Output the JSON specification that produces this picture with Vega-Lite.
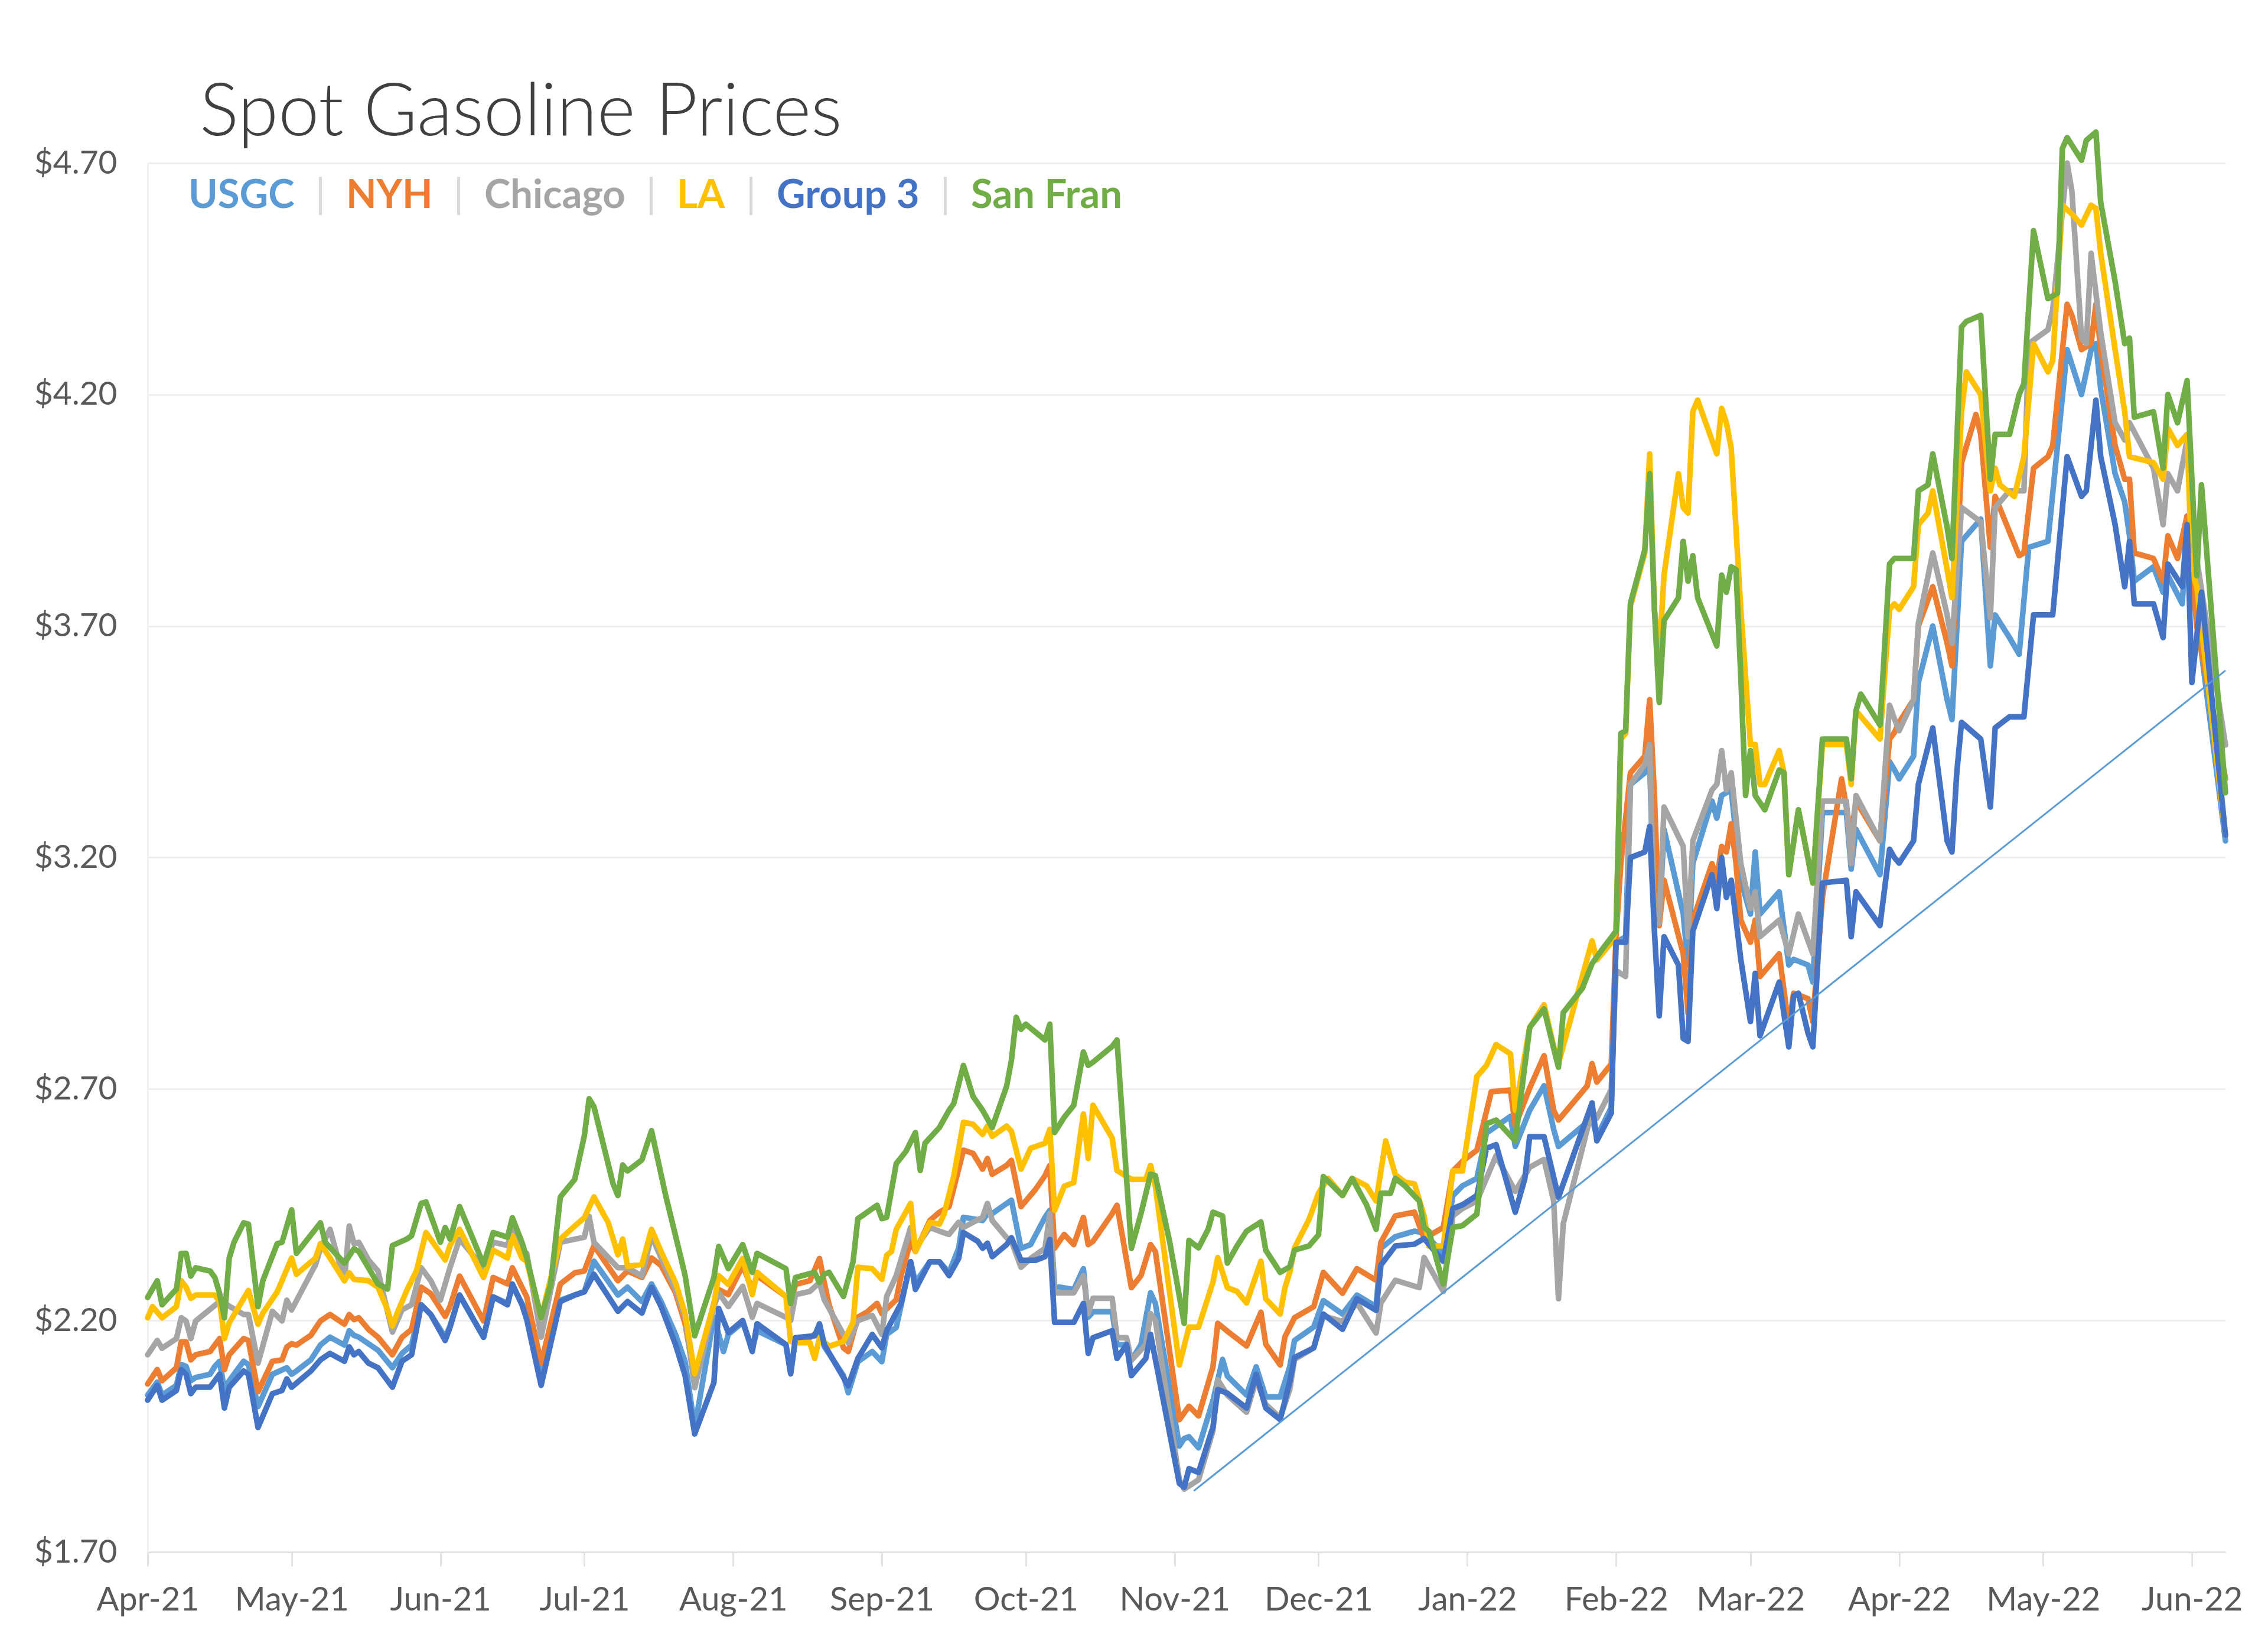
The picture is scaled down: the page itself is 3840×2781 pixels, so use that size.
{
"$schema": "https://vega.github.io/schema/vega-lite/v6.json",
"width": 3518, "height": 2351,
"autosize": {"type": "none"},
"padding": {"left": 250, "top": 276, "right": 72, "bottom": 154},
"background": "white",
"config": {"view": {"stroke": null}, "font": "Lato"},
"title": {"text": "Spot Gasoline Prices", "anchor": "start", "frame": "group", "font": "Lato", "fontSize": 124, "fontWeight": 300, "color": "#404040", "offset": 40, "dx": 88, "dy": 76},
"datasets": {
"USGC": [
{"d":"2021-04-01","p":2.039},{"d":"2021-04-03","p":2.067},{"d":"2021-04-04","p":2.039},{"d":"2021-04-07","p":2.06},{"d":"2021-04-08","p":2.105},{"d":"2021-04-09","p":2.101},{"d":"2021-04-10","p":2.07},{"d":"2021-04-11","p":2.077},{"d":"2021-04-14","p":2.084},{"d":"2021-04-15","p":2.101},{"d":"2021-04-16","p":2.112},{"d":"2021-04-17","p":2.049},{"d":"2021-04-18","p":2.07},{"d":"2021-04-21","p":2.112},{"d":"2021-04-22","p":2.105},{"d":"2021-04-24","p":2.014},{"d":"2021-04-27","p":2.084},{"d":"2021-04-30","p":2.098},
{"d":"2021-05-01","p":2.084},{"d":"2021-05-02","p":2.091},{"d":"2021-05-05","p":2.115},{"d":"2021-05-07","p":2.147},{"d":"2021-05-09","p":2.164},{"d":"2021-05-12","p":2.147},{"d":"2021-05-13","p":2.178},{"d":"2021-05-14","p":2.168},{"d":"2021-05-15","p":2.164},{"d":"2021-05-17","p":2.15},{"d":"2021-05-19","p":2.136},{"d":"2021-05-22","p":2.098},{"d":"2021-05-24","p":2.129},{"d":"2021-05-26","p":2.147},{"d":"2021-05-28","p":2.234},{"d":"2021-05-30","p":2.213},
{"d":"2021-06-02","p":2.164},{"d":"2021-06-03","p":2.188},{"d":"2021-06-05","p":2.255},{"d":"2021-06-10","p":2.164},{"d":"2021-06-12","p":2.251},{"d":"2021-06-15","p":2.237},{"d":"2021-06-16","p":2.275},{"d":"2021-06-18","p":2.237},{"d":"2021-06-19","p":2.216},{"d":"2021-06-22","p":2.084},{"d":"2021-06-26","p":2.244},{"d":"2021-06-29","p":2.255},
{"d":"2021-07-01","p":2.262},{"d":"2021-07-03","p":2.328},{"d":"2021-07-08","p":2.255},{"d":"2021-07-10","p":2.272},{"d":"2021-07-13","p":2.241},{"d":"2021-07-15","p":2.279},{"d":"2021-07-17","p":2.241},{"d":"2021-07-20","p":2.17},{"d":"2021-07-22","p":2.111},{"d":"2021-07-24","p":1.969},{"d":"2021-07-28","p":2.207},{"d":"2021-07-30","p":2.133},{"d":"2021-07-31","p":2.17},
{"d":"2021-08-03","p":2.196},{"d":"2021-08-05","p":2.14},{"d":"2021-08-06","p":2.178},{"d":"2021-08-12","p":2.148},{"d":"2021-08-13","p":2.088},{"d":"2021-08-14","p":2.159},{"d":"2021-08-17","p":2.163},{"d":"2021-08-19","p":2.178},{"d":"2021-08-20","p":2.144},{"d":"2021-08-24","p":2.081},{"d":"2021-08-25","p":2.044},{"d":"2021-08-27","p":2.111},{"d":"2021-08-30","p":2.133},
{"d":"2021-09-01","p":2.111},{"d":"2021-09-02","p":2.17},{"d":"2021-09-04","p":2.185},{"d":"2021-09-07","p":2.327},{"d":"2021-09-08","p":2.282},{"d":"2021-09-11","p":2.327},{"d":"2021-09-13","p":2.327},{"d":"2021-09-15","p":2.304},{"d":"2021-09-17","p":2.356},{"d":"2021-09-18","p":2.423},{"d":"2021-09-22","p":2.416},{"d":"2021-09-23","p":2.431},{"d":"2021-09-24","p":2.431},{"d":"2021-09-28","p":2.46},{"d":"2021-09-30","p":2.356},
{"d":"2021-10-02","p":2.364},{"d":"2021-10-05","p":2.423},{"d":"2021-10-06","p":2.438},{"d":"2021-10-07","p":2.274},{"d":"2021-10-11","p":2.267},{"d":"2021-10-13","p":2.312},{"d":"2021-10-14","p":2.207},{"d":"2021-10-15","p":2.219},{"d":"2021-10-19","p":2.219},{"d":"2021-10-20","p":2.148},{"d":"2021-10-22","p":2.148},{"d":"2021-10-23","p":2.114},{"d":"2021-10-25","p":2.148},{"d":"2021-10-27","p":2.26},{"d":"2021-10-28","p":2.237},
{"d":"2021-11-02","p":1.929},{"d":"2021-11-03","p":1.945},{"d":"2021-11-04","p":1.949},{"d":"2021-11-06","p":1.925},{"d":"2021-11-09","p":2.027},{"d":"2021-11-11","p":2.116},{"d":"2021-11-12","p":2.08},{"d":"2021-11-16","p":2.039},{"d":"2021-11-18","p":2.1},{"d":"2021-11-20","p":2.035},{"d":"2021-11-23","p":2.035},{"d":"2021-11-25","p":2.1},{"d":"2021-11-26","p":2.157},{"d":"2021-11-30","p":2.186},
{"d":"2021-12-02","p":2.243},{"d":"2021-12-06","p":2.214},{"d":"2021-12-09","p":2.255},{"d":"2021-12-13","p":2.23},{"d":"2021-12-14","p":2.356},{"d":"2021-12-17","p":2.381},{"d":"2021-12-21","p":2.393},{"d":"2021-12-23","p":2.389},{"d":"2021-12-27","p":2.344},{"d":"2021-12-29","p":2.47},{"d":"2021-12-31","p":2.491},
{"d":"2022-01-03","p":2.507},{"d":"2022-01-05","p":2.605},{"d":"2022-01-10","p":2.641},{"d":"2022-01-11","p":2.576},{"d":"2022-01-14","p":2.654},{"d":"2022-01-17","p":2.707},{"d":"2022-01-19","p":2.613},{"d":"2022-01-20","p":2.576},{"d":"2022-01-27","p":2.637},{"d":"2022-01-28","p":2.597},{"d":"2022-01-31","p":2.66},
{"d":"2022-02-01","p":3.017},{"d":"2022-02-03","p":3.029},{"d":"2022-02-04","p":3.358},{"d":"2022-02-07","p":3.383},{"d":"2022-02-08","p":3.407},{"d":"2022-02-09","p":3.065},{"d":"2022-02-10","p":3.059},{"d":"2022-02-11","p":3.261},{"d":"2022-02-15","p":3.078},{"d":"2022-02-16","p":2.968},{"d":"2022-02-17","p":3.187},{"d":"2022-02-21","p":3.322},{"d":"2022-02-22","p":3.285},{"d":"2022-02-23","p":3.334},{"d":"2022-02-25","p":3.346},{"d":"2022-02-27","p":3.151},
{"d":"2022-03-01","p":3.078},{"d":"2022-03-02","p":3.212},{"d":"2022-03-03","p":3.078},{"d":"2022-03-07","p":3.126},{"d":"2022-03-09","p":2.968},{"d":"2022-03-10","p":2.98},{"d":"2022-03-13","p":2.968},{"d":"2022-03-14","p":2.931},{"d":"2022-03-16","p":3.297},{"d":"2022-03-21","p":3.297},{"d":"2022-03-22","p":3.175},{"d":"2022-03-23","p":3.261},{"d":"2022-03-28","p":3.163},{"d":"2022-03-30","p":3.407},{"d":"2022-03-31","p":3.39},
{"d":"2022-04-01","p":3.37},{"d":"2022-04-04","p":3.419},{"d":"2022-04-05","p":3.578},{"d":"2022-04-08","p":3.7},{"d":"2022-04-11","p":3.541},{"d":"2022-04-12","p":3.498},{"d":"2022-04-14","p":3.883},{"d":"2022-04-18","p":3.931},{"d":"2022-04-20","p":3.614},{"d":"2022-04-21","p":3.724},{"d":"2022-04-24","p":3.675},{"d":"2022-04-26","p":3.639},{"d":"2022-04-28","p":3.87},
{"d":"2022-05-02","p":3.883},{"d":"2022-05-06","p":4.297},{"d":"2022-05-09","p":4.2},{"d":"2022-05-11","p":4.297},{"d":"2022-05-12","p":4.31},{"d":"2022-05-13","p":4.212},{"d":"2022-05-16","p":4.029},{"d":"2022-05-18","p":3.968},{"d":"2022-05-19","p":3.895},{"d":"2022-05-20","p":3.797},{"d":"2022-05-24","p":3.828},{"d":"2022-05-26","p":3.773},{"d":"2022-05-27","p":3.809},{"d":"2022-05-30","p":3.748},{"d":"2022-05-31","p":3.919},
{"d":"2022-06-02","p":3.724},{"d":"2022-06-08","p":3.236}
],
"NYH": [
{"d":"2021-04-01","p":2.063},{"d":"2021-04-03","p":2.094},{"d":"2021-04-04","p":2.07},{"d":"2021-04-07","p":2.098},{"d":"2021-04-08","p":2.154},{"d":"2021-04-09","p":2.154},{"d":"2021-04-10","p":2.115},{"d":"2021-04-11","p":2.126},{"d":"2021-04-14","p":2.133},{"d":"2021-04-15","p":2.147},{"d":"2021-04-16","p":2.161},{"d":"2021-04-17","p":2.094},{"d":"2021-04-18","p":2.126},{"d":"2021-04-21","p":2.161},{"d":"2021-04-22","p":2.157},{"d":"2021-04-24","p":2.046},{"d":"2021-04-27","p":2.112},{"d":"2021-04-29","p":2.115},{"d":"2021-04-30","p":2.143},
{"d":"2021-05-01","p":2.15},{"d":"2021-05-02","p":2.147},{"d":"2021-05-05","p":2.168},{"d":"2021-05-07","p":2.199},{"d":"2021-05-09","p":2.213},{"d":"2021-05-12","p":2.192},{"d":"2021-05-13","p":2.213},{"d":"2021-05-14","p":2.202},{"d":"2021-05-15","p":2.206},{"d":"2021-05-17","p":2.181},{"d":"2021-05-19","p":2.164},{"d":"2021-05-22","p":2.126},{"d":"2021-05-24","p":2.164},{"d":"2021-05-26","p":2.181},{"d":"2021-05-28","p":2.272},{"d":"2021-05-30","p":2.258},
{"d":"2021-06-02","p":2.209},{"d":"2021-06-03","p":2.23},{"d":"2021-06-05","p":2.296},{"d":"2021-06-10","p":2.199},{"d":"2021-06-12","p":2.293},{"d":"2021-06-15","p":2.279},{"d":"2021-06-16","p":2.314},{"d":"2021-06-18","p":2.272},{"d":"2021-06-19","p":2.251},{"d":"2021-06-22","p":2.108},{"d":"2021-06-26","p":2.279},{"d":"2021-06-29","p":2.303},
{"d":"2021-07-01","p":2.307},{"d":"2021-07-03","p":2.362},{"d":"2021-07-08","p":2.286},{"d":"2021-07-10","p":2.307},{"d":"2021-07-13","p":2.293},{"d":"2021-07-15","p":2.335},{"d":"2021-07-17","p":2.319},{"d":"2021-07-20","p":2.26},{"d":"2021-07-22","p":2.193},{"d":"2021-07-24","p":2.074},{"d":"2021-07-28","p":2.237},{"d":"2021-07-29","p":2.267},{"d":"2021-07-31","p":2.256},
{"d":"2021-08-03","p":2.319},{"d":"2021-08-05","p":2.267},{"d":"2021-08-06","p":2.297},{"d":"2021-08-12","p":2.252},{"d":"2021-08-13","p":2.237},{"d":"2021-08-14","p":2.278},{"d":"2021-08-17","p":2.286},{"d":"2021-08-19","p":2.334},{"d":"2021-08-20","p":2.282},{"d":"2021-08-21","p":2.234},{"d":"2021-08-24","p":2.141},{"d":"2021-08-25","p":2.133},{"d":"2021-08-27","p":2.207},{"d":"2021-08-29","p":2.219},{"d":"2021-08-31","p":2.237},
{"d":"2021-09-01","p":2.215},{"d":"2021-09-04","p":2.245},{"d":"2021-09-05","p":2.297},{"d":"2021-09-07","p":2.371},{"d":"2021-09-08","p":2.349},{"d":"2021-09-11","p":2.416},{"d":"2021-09-13","p":2.434},{"d":"2021-09-15","p":2.446},{"d":"2021-09-17","p":2.527},{"d":"2021-09-18","p":2.568},{"d":"2021-09-20","p":2.561},{"d":"2021-09-22","p":2.527},{"d":"2021-09-23","p":2.55},{"d":"2021-09-24","p":2.516},{"d":"2021-09-27","p":2.535},{"d":"2021-09-28","p":2.546},{"d":"2021-09-30","p":2.446},
{"d":"2021-10-03","p":2.483},{"d":"2021-10-05","p":2.513},{"d":"2021-10-06","p":2.535},{"d":"2021-10-07","p":2.356},{"d":"2021-10-09","p":2.386},{"d":"2021-10-11","p":2.364},{"d":"2021-10-13","p":2.423},{"d":"2021-10-14","p":2.364},{"d":"2021-10-15","p":2.371},{"d":"2021-10-19","p":2.431},{"d":"2021-10-20","p":2.449},{"d":"2021-10-23","p":2.271},{"d":"2021-10-25","p":2.297},{"d":"2021-10-27","p":2.364},{"d":"2021-10-28","p":2.349},
{"d":"2021-11-02","p":1.986},{"d":"2021-11-04","p":2.015},{"d":"2021-11-06","p":1.994},{"d":"2021-11-09","p":2.1},{"d":"2021-11-10","p":2.194},{"d":"2021-11-12","p":2.177},{"d":"2021-11-16","p":2.145},{"d":"2021-11-19","p":2.218},{"d":"2021-11-20","p":2.149},{"d":"2021-11-23","p":2.104},{"d":"2021-11-24","p":2.165},{"d":"2021-11-26","p":2.206},{"d":"2021-11-30","p":2.23},
{"d":"2021-12-02","p":2.304},{"d":"2021-12-06","p":2.259},{"d":"2021-12-09","p":2.312},{"d":"2021-12-13","p":2.287},{"d":"2021-12-14","p":2.369},{"d":"2021-12-17","p":2.426},{"d":"2021-12-21","p":2.434},{"d":"2021-12-23","p":2.377},{"d":"2021-12-27","p":2.401},{"d":"2021-12-29","p":2.523},{"d":"2021-12-31","p":2.544},
{"d":"2022-01-03","p":2.568},{"d":"2022-01-06","p":2.694},{"d":"2022-01-10","p":2.698},{"d":"2022-01-11","p":2.621},{"d":"2022-01-14","p":2.702},{"d":"2022-01-17","p":2.772},{"d":"2022-01-19","p":2.654},{"d":"2022-01-20","p":2.633},{"d":"2022-01-26","p":2.707},{"d":"2022-01-27","p":2.755},{"d":"2022-01-28","p":2.715},{"d":"2022-01-31","p":2.754},
{"d":"2022-02-01","p":3.029},{"d":"2022-02-02","p":3.187},{"d":"2022-02-04","p":3.383},{"d":"2022-02-07","p":3.419},{"d":"2022-02-08","p":3.541},{"d":"2022-02-09","p":3.334},{"d":"2022-02-10","p":3.053},{"d":"2022-02-11","p":3.151},{"d":"2022-02-15","p":2.992},{"d":"2022-02-16","p":2.864},{"d":"2022-02-17","p":3.065},{"d":"2022-02-21","p":3.187},{"d":"2022-02-22","p":3.151},{"d":"2022-02-23","p":3.224},{"d":"2022-02-24","p":3.212},{"d":"2022-02-25","p":3.273},{"d":"2022-02-26","p":3.187},{"d":"2022-02-27","p":3.065},
{"d":"2022-03-01","p":3.017},{"d":"2022-03-02","p":3.065},{"d":"2022-03-03","p":2.943},{"d":"2022-03-07","p":2.992},{"d":"2022-03-09","p":2.834},{"d":"2022-03-10","p":2.907},{"d":"2022-03-13","p":2.895},{"d":"2022-03-14","p":2.846},{"d":"2022-03-16","p":3.114},{"d":"2022-03-20","p":3.37},{"d":"2022-03-22","p":3.248},{"d":"2022-03-23","p":3.322},{"d":"2022-03-28","p":3.236},{"d":"2022-03-30","p":3.456},{"d":"2022-03-31","p":3.47},
{"d":"2022-04-01","p":3.492},{"d":"2022-04-04","p":3.541},{"d":"2022-04-05","p":3.7},{"d":"2022-04-08","p":3.785},{"d":"2022-04-11","p":3.663},{"d":"2022-04-12","p":3.614},{"d":"2022-04-14","p":4.053},{"d":"2022-04-17","p":4.157},{"d":"2022-04-18","p":4.114},{"d":"2022-04-20","p":3.87},{"d":"2022-04-21","p":3.98},{"d":"2022-04-26","p":3.852},{"d":"2022-04-27","p":3.858},{"d":"2022-04-29","p":4.041},
{"d":"2022-05-02","p":4.066},{"d":"2022-05-03","p":4.09},{"d":"2022-05-06","p":4.395},{"d":"2022-05-07","p":4.371},{"d":"2022-05-09","p":4.297},{"d":"2022-05-11","p":4.31},{"d":"2022-05-12","p":4.395},{"d":"2022-05-13","p":4.297},{"d":"2022-05-16","p":4.09},{"d":"2022-05-18","p":4.017},{"d":"2022-05-19","p":4.017},{"d":"2022-05-20","p":3.858},{"d":"2022-05-24","p":3.846},{"d":"2022-05-26","p":3.797},{"d":"2022-05-27","p":3.895},{"d":"2022-05-29","p":3.846},{"d":"2022-05-31","p":3.938},
{"d":"2022-06-02","p":3.7},{"d":"2022-06-08","p":3.37}
],
"Chicago": [
{"d":"2021-04-01","p":2.126},{"d":"2021-04-03","p":2.157},{"d":"2021-04-04","p":2.14},{"d":"2021-04-07","p":2.161},{"d":"2021-04-08","p":2.206},{"d":"2021-04-09","p":2.199},{"d":"2021-04-10","p":2.161},{"d":"2021-04-11","p":2.199},{"d":"2021-04-16","p":2.241},{"d":"2021-04-17","p":2.237},{"d":"2021-04-21","p":2.213},{"d":"2021-04-22","p":2.213},{"d":"2021-04-24","p":2.108},{"d":"2021-04-27","p":2.22},{"d":"2021-04-29","p":2.199},{"d":"2021-04-30","p":2.244},
{"d":"2021-05-01","p":2.223},{"d":"2021-05-06","p":2.321},{"d":"2021-05-07","p":2.355},{"d":"2021-05-09","p":2.397},{"d":"2021-05-10","p":2.359},{"d":"2021-05-12","p":2.286},{"d":"2021-05-13","p":2.404},{"d":"2021-05-14","p":2.366},{"d":"2021-05-15","p":2.369},{"d":"2021-05-17","p":2.331},{"d":"2021-05-19","p":2.307},{"d":"2021-05-22","p":2.175},{"d":"2021-05-24","p":2.223},{"d":"2021-05-26","p":2.234},{"d":"2021-05-28","p":2.314},{"d":"2021-05-30","p":2.286},
{"d":"2021-06-01","p":2.244},{"d":"2021-06-03","p":2.314},{"d":"2021-06-05","p":2.376},{"d":"2021-06-10","p":2.314},{"d":"2021-06-12","p":2.369},{"d":"2021-06-15","p":2.362},{"d":"2021-06-16","p":2.397},{"d":"2021-06-18","p":2.345},{"d":"2021-06-19","p":2.345},{"d":"2021-06-22","p":2.164},{"d":"2021-06-26","p":2.369},
{"d":"2021-07-01","p":2.38},{"d":"2021-07-02","p":2.425},{"d":"2021-07-03","p":2.369},{"d":"2021-07-08","p":2.314},{"d":"2021-07-10","p":2.314},{"d":"2021-07-13","p":2.296},{"d":"2021-07-15","p":2.383},{"d":"2021-07-17","p":2.335},{"d":"2021-07-20","p":2.267},{"d":"2021-07-22","p":2.207},{"d":"2021-07-24","p":2.055},{"d":"2021-07-28","p":2.23},{"d":"2021-07-29","p":2.26},{"d":"2021-07-31","p":2.23},
{"d":"2021-08-03","p":2.274},{"d":"2021-08-05","p":2.207},{"d":"2021-08-06","p":2.237},{"d":"2021-08-12","p":2.207},{"d":"2021-08-13","p":2.2},{"d":"2021-08-14","p":2.256},{"d":"2021-08-17","p":2.263},{"d":"2021-08-19","p":2.282},{"d":"2021-08-20","p":2.245},{"d":"2021-08-24","p":2.17},{"d":"2021-08-25","p":2.152},{"d":"2021-08-27","p":2.2},{"d":"2021-08-30","p":2.211},
{"d":"2021-09-01","p":2.17},{"d":"2021-09-02","p":2.252},{"d":"2021-09-04","p":2.297},{"d":"2021-09-07","p":2.401},{"d":"2021-09-08","p":2.356},{"d":"2021-09-11","p":2.401},{"d":"2021-09-13","p":2.393},{"d":"2021-09-15","p":2.386},{"d":"2021-09-17","p":2.412},{"d":"2021-09-18","p":2.401},{"d":"2021-09-22","p":2.423},{"d":"2021-09-23","p":2.453},{"d":"2021-09-24","p":2.416},{"d":"2021-09-27","p":2.379},{"d":"2021-09-28","p":2.371},{"d":"2021-09-30","p":2.315},
{"d":"2021-10-02","p":2.334},{"d":"2021-10-05","p":2.356},{"d":"2021-10-06","p":2.431},{"d":"2021-10-07","p":2.26},{"d":"2021-10-11","p":2.26},{"d":"2021-10-13","p":2.297},{"d":"2021-10-14","p":2.215},{"d":"2021-10-15","p":2.248},{"d":"2021-10-19","p":2.248},{"d":"2021-10-20","p":2.163},{"d":"2021-10-22","p":2.163},{"d":"2021-10-23","p":2.114},{"d":"2021-10-26","p":2.148},{"d":"2021-10-27","p":2.215},{"d":"2021-10-28","p":2.2},
{"d":"2021-11-02","p":1.856},{"d":"2021-11-03","p":1.836},{"d":"2021-11-06","p":1.856},{"d":"2021-11-09","p":1.962},{"d":"2021-11-10","p":2.072},{"d":"2021-11-12","p":2.039},{"d":"2021-11-16","p":2.002},{"d":"2021-11-18","p":2.072},{"d":"2021-11-20","p":2.019},{"d":"2021-11-23","p":1.99},{"d":"2021-11-25","p":2.051},{"d":"2021-11-26","p":2.116},{"d":"2021-11-30","p":2.141},
{"d":"2021-12-02","p":2.21},{"d":"2021-12-06","p":2.198},{"d":"2021-12-09","p":2.238},{"d":"2021-12-13","p":2.173},{"d":"2021-12-14","p":2.238},{"d":"2021-12-17","p":2.287},{"d":"2021-12-22","p":2.271},{"d":"2021-12-23","p":2.336},{"d":"2021-12-27","p":2.263},{"d":"2021-12-29","p":2.426},{"d":"2021-12-31","p":2.442},
{"d":"2022-01-03","p":2.458},{"d":"2022-01-07","p":2.556},{"d":"2022-01-11","p":2.479},{"d":"2022-01-14","p":2.531},{"d":"2022-01-17","p":2.548},{"d":"2022-01-19","p":2.458},{"d":"2022-01-20","p":2.247},{"d":"2022-01-21","p":2.409},{"d":"2022-01-27","p":2.654},{"d":"2022-01-28","p":2.637},{"d":"2022-01-31","p":2.699},
{"d":"2022-02-01","p":2.956},{"d":"2022-02-03","p":2.943},{"d":"2022-02-04","p":3.358},{"d":"2022-02-07","p":3.401},{"d":"2022-02-08","p":3.444},{"d":"2022-02-09","p":3.053},{"d":"2022-02-10","p":3.059},{"d":"2022-02-11","p":3.309},{"d":"2022-02-15","p":3.224},{"d":"2022-02-16","p":3.029},{"d":"2022-02-17","p":3.236},{"d":"2022-02-21","p":3.346},{"d":"2022-02-22","p":3.358},{"d":"2022-02-23","p":3.431},{"d":"2022-02-24","p":3.346},{"d":"2022-02-25","p":3.383},{"d":"2022-02-27","p":3.187},
{"d":"2022-03-01","p":3.09},{"d":"2022-03-02","p":3.126},{"d":"2022-03-03","p":3.029},{"d":"2022-03-07","p":3.065},{"d":"2022-03-09","p":2.992},{"d":"2022-03-11","p":3.078},{"d":"2022-03-14","p":2.992},{"d":"2022-03-16","p":3.322},{"d":"2022-03-21","p":3.322},{"d":"2022-03-22","p":3.187},{"d":"2022-03-23","p":3.334},{"d":"2022-03-28","p":3.236},{"d":"2022-03-30","p":3.529},{"d":"2022-03-31","p":3.5},
{"d":"2022-04-01","p":3.474},{"d":"2022-04-04","p":3.541},{"d":"2022-04-05","p":3.706},{"d":"2022-04-08","p":3.858},{"d":"2022-04-11","p":3.724},{"d":"2022-04-12","p":3.663},{"d":"2022-04-14","p":3.956},{"d":"2022-04-18","p":3.925},{"d":"2022-04-20","p":3.718},{"d":"2022-04-21","p":3.956},{"d":"2022-04-24","p":3.992},{"d":"2022-04-27","p":3.992},{"d":"2022-04-28","p":4.31},
{"d":"2022-05-02","p":4.34},{"d":"2022-05-03","p":4.383},{"d":"2022-05-06","p":4.7},{"d":"2022-05-07","p":4.639},{"d":"2022-05-09","p":4.322},{"d":"2022-05-10","p":4.31},{"d":"2022-05-11","p":4.505},{"d":"2022-05-13","p":4.334},{"d":"2022-05-16","p":4.139},{"d":"2022-05-18","p":4.102},{"d":"2022-05-19","p":4.139},{"d":"2022-05-24","p":4.041},{"d":"2022-05-26","p":3.919},{"d":"2022-05-27","p":4.029},{"d":"2022-05-29","p":3.992},{"d":"2022-05-31","p":4.102},
{"d":"2022-06-02","p":3.846},{"d":"2022-06-08","p":3.443}
],
"LA": [
{"d":"2021-04-01","p":2.206},{"d":"2021-04-02","p":2.23},{"d":"2021-04-04","p":2.206},{"d":"2021-04-07","p":2.23},{"d":"2021-04-08","p":2.286},{"d":"2021-04-09","p":2.272},{"d":"2021-04-10","p":2.248},{"d":"2021-04-11","p":2.255},{"d":"2021-04-15","p":2.255},{"d":"2021-04-16","p":2.241},{"d":"2021-04-17","p":2.161},{"d":"2021-04-18","p":2.195},{"d":"2021-04-22","p":2.265},{"d":"2021-04-24","p":2.192},{"d":"2021-04-25","p":2.216},{"d":"2021-04-28","p":2.262},
{"d":"2021-05-01","p":2.335},{"d":"2021-05-02","p":2.3},{"d":"2021-05-06","p":2.335},{"d":"2021-05-07","p":2.366},{"d":"2021-05-09","p":2.335},{"d":"2021-05-12","p":2.286},{"d":"2021-05-13","p":2.303},{"d":"2021-05-14","p":2.289},{"d":"2021-05-17","p":2.286},{"d":"2021-05-19","p":2.272},{"d":"2021-05-21","p":2.223},{"d":"2021-05-22","p":2.188},{"d":"2021-05-23","p":2.216},{"d":"2021-05-25","p":2.265},{"d":"2021-05-27","p":2.307},{"d":"2021-05-29","p":2.39},
{"d":"2021-06-02","p":2.331},{"d":"2021-06-03","p":2.362},{"d":"2021-06-05","p":2.397},{"d":"2021-06-10","p":2.293},{"d":"2021-06-12","p":2.352},{"d":"2021-06-15","p":2.335},{"d":"2021-06-16","p":2.383},{"d":"2021-06-18","p":2.335},{"d":"2021-06-19","p":2.328},{"d":"2021-06-22","p":2.206},{"d":"2021-06-26","p":2.376},{"d":"2021-06-29","p":2.404},
{"d":"2021-07-01","p":2.422},{"d":"2021-07-03","p":2.467},{"d":"2021-07-06","p":2.411},{"d":"2021-07-08","p":2.342},{"d":"2021-07-09","p":2.376},{"d":"2021-07-10","p":2.317},{"d":"2021-07-13","p":2.321},{"d":"2021-07-15","p":2.397},{"d":"2021-07-17","p":2.349},{"d":"2021-07-20","p":2.282},{"d":"2021-07-22","p":2.215},{"d":"2021-07-24","p":2.085},{"d":"2021-07-28","p":2.237},{"d":"2021-07-29","p":2.297},{"d":"2021-07-31","p":2.278},
{"d":"2021-08-03","p":2.334},{"d":"2021-08-05","p":2.256},{"d":"2021-08-06","p":2.304},{"d":"2021-08-12","p":2.252},{"d":"2021-08-13","p":2.155},{"d":"2021-08-14","p":2.152},{"d":"2021-08-17","p":2.152},{"d":"2021-08-18","p":2.118},{"d":"2021-08-19","p":2.163},{"d":"2021-08-21","p":2.144},{"d":"2021-08-24","p":2.155},{"d":"2021-08-26","p":2.196},{"d":"2021-08-27","p":2.315},{"d":"2021-08-30","p":2.312},
{"d":"2021-09-01","p":2.289},{"d":"2021-09-02","p":2.341},{"d":"2021-09-03","p":2.349},{"d":"2021-09-04","p":2.397},{"d":"2021-09-07","p":2.453},{"d":"2021-09-08","p":2.349},{"d":"2021-09-11","p":2.412},{"d":"2021-09-13","p":2.408},{"d":"2021-09-14","p":2.431},{"d":"2021-09-16","p":2.513},{"d":"2021-09-18","p":2.628},{"d":"2021-09-20","p":2.624},{"d":"2021-09-22","p":2.602},{"d":"2021-09-23","p":2.62},{"d":"2021-09-24","p":2.598},{"d":"2021-09-27","p":2.62},{"d":"2021-09-28","p":2.609},{"d":"2021-09-30","p":2.527},
{"d":"2021-10-02","p":2.572},{"d":"2021-10-05","p":2.583},{"d":"2021-10-06","p":2.613},{"d":"2021-10-07","p":2.438},{"d":"2021-10-09","p":2.49},{"d":"2021-10-11","p":2.498},{"d":"2021-10-13","p":2.646},{"d":"2021-10-14","p":2.55},{"d":"2021-10-15","p":2.665},{"d":"2021-10-19","p":2.594},{"d":"2021-10-20","p":2.524},{"d":"2021-10-23","p":2.505},{"d":"2021-10-26","p":2.505},{"d":"2021-10-27","p":2.535},{"d":"2021-10-28","p":2.49},
{"d":"2021-11-02","p":2.104},{"d":"2021-11-04","p":2.186},{"d":"2021-11-06","p":2.186},{"d":"2021-11-09","p":2.283},{"d":"2021-11-10","p":2.336},{"d":"2021-11-12","p":2.271},{"d":"2021-11-14","p":2.263},{"d":"2021-11-16","p":2.238},{"d":"2021-11-19","p":2.328},{"d":"2021-11-20","p":2.247},{"d":"2021-11-23","p":2.214},{"d":"2021-11-24","p":2.271},{"d":"2021-11-25","p":2.304},{"d":"2021-11-26","p":2.357},{"d":"2021-11-29","p":2.418},
{"d":"2021-12-01","p":2.475},{"d":"2021-12-03","p":2.507},{"d":"2021-12-06","p":2.47},{"d":"2021-12-08","p":2.507},{"d":"2021-12-11","p":2.491},{"d":"2021-12-13","p":2.458},{"d":"2021-12-15","p":2.588},{"d":"2021-12-17","p":2.515},{"d":"2021-12-19","p":2.499},{"d":"2021-12-21","p":2.495},{"d":"2021-12-23","p":2.426},{"d":"2021-12-24","p":2.361},{"d":"2021-12-27","p":2.361},{"d":"2021-12-29","p":2.523},{"d":"2021-12-31","p":2.523},
{"d":"2022-01-03","p":2.727},{"d":"2022-01-05","p":2.751},{"d":"2022-01-07","p":2.796},{"d":"2022-01-10","p":2.776},{"d":"2022-01-11","p":2.654},{"d":"2022-01-14","p":2.833},{"d":"2022-01-17","p":2.882},{"d":"2022-01-19","p":2.792},{"d":"2022-01-20","p":2.755},{"d":"2022-01-27","p":3.02},{"d":"2022-01-28","p":2.979},{"d":"2022-01-31","p":3.016},
{"d":"2022-02-01","p":3.041},{"d":"2022-02-02","p":3.456},{"d":"2022-02-03","p":3.468},{"d":"2022-02-04","p":3.743},{"d":"2022-02-07","p":3.858},{"d":"2022-02-08","p":4.072},{"d":"2022-02-09","p":3.736},{"d":"2022-02-10","p":3.639},{"d":"2022-02-11","p":3.81},{"d":"2022-02-14","p":4.029},{"d":"2022-02-15","p":3.956},{"d":"2022-02-16","p":3.944},{"d":"2022-02-17","p":4.163},{"d":"2022-02-18","p":4.188},{"d":"2022-02-22","p":4.072},{"d":"2022-02-23","p":4.17},{"d":"2022-02-24","p":4.139},{"d":"2022-02-25","p":4.084},{"d":"2022-02-27","p":3.736},
{"d":"2022-03-01","p":3.444},{"d":"2022-03-02","p":3.444},{"d":"2022-03-03","p":3.358},{"d":"2022-03-04","p":3.358},{"d":"2022-03-07","p":3.431},{"d":"2022-03-08","p":3.383},{"d":"2022-03-09","p":3.163},{"d":"2022-03-11","p":3.303},{"d":"2022-03-14","p":3.145},{"d":"2022-03-16","p":3.444},{"d":"2022-03-21","p":3.444},{"d":"2022-03-22","p":3.358},{"d":"2022-03-23","p":3.517},{"d":"2022-03-28","p":3.456},{"d":"2022-03-30","p":3.736},{"d":"2022-03-31","p":3.748},
{"d":"2022-04-01","p":3.736},{"d":"2022-04-04","p":3.785},{"d":"2022-04-05","p":3.919},{"d":"2022-04-07","p":3.944},{"d":"2022-04-08","p":3.992},{"d":"2022-04-11","p":3.822},{"d":"2022-04-12","p":3.761},{"d":"2022-04-14","p":4.163},{"d":"2022-04-15","p":4.249},{"d":"2022-04-18","p":4.2},{"d":"2022-04-20","p":3.992},{"d":"2022-04-21","p":4.041},{"d":"2022-04-22","p":4.005},{"d":"2022-04-25","p":3.98},{"d":"2022-04-27","p":4.066},{"d":"2022-04-29","p":4.31},
{"d":"2022-05-02","p":4.249},{"d":"2022-05-03","p":4.273},{"d":"2022-05-05","p":4.609},{"d":"2022-05-07","p":4.59},{"d":"2022-05-09","p":4.566},{"d":"2022-05-11","p":4.609},{"d":"2022-05-12","p":4.602},{"d":"2022-05-13","p":4.505},{"d":"2022-05-16","p":4.297},{"d":"2022-05-18","p":4.163},{"d":"2022-05-19","p":4.066},{"d":"2022-05-24","p":4.053},{"d":"2022-05-26","p":4.017},{"d":"2022-05-27","p":4.127},{"d":"2022-05-29","p":4.09},{"d":"2022-05-31","p":4.114},
{"d":"2022-06-01","p":3.822},{"d":"2022-06-02","p":3.785},{"d":"2022-06-08","p":3.248}
],
"Group3": [
{"d":"2021-04-01","p":2.028},{"d":"2021-04-03","p":2.06},{"d":"2021-04-04","p":2.028},{"d":"2021-04-07","p":2.049},{"d":"2021-04-08","p":2.094},{"d":"2021-04-09","p":2.084},{"d":"2021-04-10","p":2.042},{"d":"2021-04-11","p":2.056},{"d":"2021-04-14","p":2.056},{"d":"2021-04-15","p":2.07},{"d":"2021-04-16","p":2.084},{"d":"2021-04-17","p":2.011},{"d":"2021-04-18","p":2.056},{"d":"2021-04-21","p":2.091},{"d":"2021-04-22","p":2.084},{"d":"2021-04-24","p":1.969},{"d":"2021-04-27","p":2.042},{"d":"2021-04-29","p":2.049},{"d":"2021-04-30","p":2.074},
{"d":"2021-05-01","p":2.056},{"d":"2021-05-05","p":2.091},{"d":"2021-05-07","p":2.115},{"d":"2021-05-09","p":2.129},{"d":"2021-05-12","p":2.112},{"d":"2021-05-13","p":2.143},{"d":"2021-05-14","p":2.126},{"d":"2021-05-15","p":2.133},{"d":"2021-05-17","p":2.108},{"d":"2021-05-19","p":2.098},{"d":"2021-05-22","p":2.056},{"d":"2021-05-24","p":2.112},{"d":"2021-05-26","p":2.126},{"d":"2021-05-28","p":2.234},{"d":"2021-05-30","p":2.213},
{"d":"2021-06-02","p":2.157},{"d":"2021-06-03","p":2.185},{"d":"2021-06-05","p":2.255},{"d":"2021-06-10","p":2.164},{"d":"2021-06-12","p":2.251},{"d":"2021-06-15","p":2.234},{"d":"2021-06-16","p":2.279},{"d":"2021-06-18","p":2.234},{"d":"2021-06-19","p":2.202},{"d":"2021-06-22","p":2.06},{"d":"2021-06-26","p":2.241},{"d":"2021-06-29","p":2.255},
{"d":"2021-07-01","p":2.262},{"d":"2021-07-03","p":2.3},{"d":"2021-07-08","p":2.22},{"d":"2021-07-10","p":2.241},{"d":"2021-07-13","p":2.216},{"d":"2021-07-15","p":2.272},{"d":"2021-07-17","p":2.23},{"d":"2021-07-20","p":2.148},{"d":"2021-07-22","p":2.081},{"d":"2021-07-24","p":1.955},{"d":"2021-07-28","p":2.066},{"d":"2021-07-29","p":2.226},{"d":"2021-07-31","p":2.174},
{"d":"2021-08-03","p":2.2},{"d":"2021-08-05","p":2.133},{"d":"2021-08-06","p":2.193},{"d":"2021-08-12","p":2.148},{"d":"2021-08-13","p":2.085},{"d":"2021-08-14","p":2.163},{"d":"2021-08-18","p":2.167},{"d":"2021-08-19","p":2.193},{"d":"2021-08-20","p":2.148},{"d":"2021-08-24","p":2.077},{"d":"2021-08-25","p":2.059},{"d":"2021-08-27","p":2.118},{"d":"2021-08-30","p":2.17},
{"d":"2021-09-01","p":2.141},{"d":"2021-09-02","p":2.178},{"d":"2021-09-05","p":2.237},{"d":"2021-09-07","p":2.327},{"d":"2021-09-08","p":2.267},{"d":"2021-09-11","p":2.327},{"d":"2021-09-13","p":2.327},{"d":"2021-09-15","p":2.297},{"d":"2021-09-17","p":2.334},{"d":"2021-09-18","p":2.39},{"d":"2021-09-21","p":2.371},{"d":"2021-09-22","p":2.356},{"d":"2021-09-23","p":2.367},{"d":"2021-09-24","p":2.338},{"d":"2021-09-27","p":2.364},{"d":"2021-09-28","p":2.379},{"d":"2021-09-30","p":2.33},
{"d":"2021-10-03","p":2.33},{"d":"2021-10-05","p":2.338},{"d":"2021-10-06","p":2.375},{"d":"2021-10-07","p":2.196},{"d":"2021-10-11","p":2.196},{"d":"2021-10-13","p":2.237},{"d":"2021-10-14","p":2.129},{"d":"2021-10-15","p":2.163},{"d":"2021-10-19","p":2.178},{"d":"2021-10-20","p":2.118},{"d":"2021-10-22","p":2.148},{"d":"2021-10-23","p":2.081},{"d":"2021-10-26","p":2.118},{"d":"2021-10-27","p":2.17},
{"d":"2021-11-02","p":1.848},{"d":"2021-11-03","p":1.84},{"d":"2021-11-04","p":1.88},{"d":"2021-11-06","p":1.872},{"d":"2021-11-09","p":1.97},{"d":"2021-11-10","p":2.051},{"d":"2021-11-12","p":2.043},{"d":"2021-11-16","p":2.011},{"d":"2021-11-18","p":2.084},{"d":"2021-11-20","p":2.011},{"d":"2021-11-23","p":1.986},{"d":"2021-11-25","p":2.068},{"d":"2021-11-26","p":2.12},{"d":"2021-11-30","p":2.141},
{"d":"2021-12-02","p":2.214},{"d":"2021-12-06","p":2.181},{"d":"2021-12-09","p":2.247},{"d":"2021-12-13","p":2.222},{"d":"2021-12-14","p":2.32},{"d":"2021-12-17","p":2.361},{"d":"2021-12-21","p":2.365},{"d":"2021-12-23","p":2.377},{"d":"2021-12-27","p":2.328},{"d":"2021-12-29","p":2.442},{"d":"2021-12-31","p":2.45},
{"d":"2022-01-03","p":2.47},{"d":"2022-01-05","p":2.572},{"d":"2022-01-07","p":2.58},{"d":"2022-01-11","p":2.434},{"d":"2022-01-13","p":2.507},{"d":"2022-01-14","p":2.597},{"d":"2022-01-17","p":2.597},{"d":"2022-01-20","p":2.466},{"d":"2022-01-27","p":2.67},{"d":"2022-01-28","p":2.588},{"d":"2022-01-31","p":2.648},
{"d":"2022-02-01","p":3.017},{"d":"2022-02-03","p":3.017},{"d":"2022-02-04","p":3.2},{"d":"2022-02-07","p":3.212},{"d":"2022-02-08","p":3.267},{"d":"2022-02-09","p":3.041},{"d":"2022-02-10","p":2.858},{"d":"2022-02-11","p":3.029},{"d":"2022-02-14","p":2.968},{"d":"2022-02-15","p":2.809},{"d":"2022-02-16","p":2.803},{"d":"2022-02-17","p":3.041},{"d":"2022-02-21","p":3.163},{"d":"2022-02-22","p":3.09},{"d":"2022-02-23","p":3.2},{"d":"2022-02-24","p":3.114},{"d":"2022-02-25","p":3.151},{"d":"2022-02-27","p":2.98},
{"d":"2022-03-01","p":2.846},{"d":"2022-03-02","p":2.95},{"d":"2022-03-03","p":2.815},{"d":"2022-03-07","p":2.931},{"d":"2022-03-09","p":2.791},{"d":"2022-03-10","p":2.901},{"d":"2022-03-11","p":2.907},{"d":"2022-03-13","p":2.821},{"d":"2022-03-14","p":2.791},{"d":"2022-03-16","p":3.145},{"d":"2022-03-21","p":3.151},{"d":"2022-03-22","p":3.029},{"d":"2022-03-23","p":3.126},{"d":"2022-03-28","p":3.053},{"d":"2022-03-30","p":3.218},{"d":"2022-03-31","p":3.2},
{"d":"2022-04-01","p":3.188},{"d":"2022-04-04","p":3.236},{"d":"2022-04-05","p":3.358},{"d":"2022-04-08","p":3.48},{"d":"2022-04-11","p":3.236},{"d":"2022-04-12","p":3.212},{"d":"2022-04-13","p":3.383},{"d":"2022-04-14","p":3.492},{"d":"2022-04-18","p":3.456},{"d":"2022-04-20","p":3.309},{"d":"2022-04-21","p":3.48},{"d":"2022-04-24","p":3.504},{"d":"2022-04-27","p":3.504},{"d":"2022-04-29","p":3.724},
{"d":"2022-05-03","p":3.724},{"d":"2022-05-06","p":4.066},{"d":"2022-05-09","p":3.98},{"d":"2022-05-10","p":3.992},{"d":"2022-05-12","p":4.188},{"d":"2022-05-13","p":4.066},{"d":"2022-05-16","p":3.919},{"d":"2022-05-18","p":3.785},{"d":"2022-05-19","p":3.883},{"d":"2022-05-20","p":3.748},{"d":"2022-05-24","p":3.748},{"d":"2022-05-26","p":3.675},{"d":"2022-05-27","p":3.834},{"d":"2022-05-30","p":3.785},{"d":"2022-05-31","p":3.919},
{"d":"2022-06-01","p":3.578},{"d":"2022-06-03","p":3.773},{"d":"2022-06-08","p":3.248}
],
"SanFran": [
{"d":"2021-04-01","p":2.25},{"d":"2021-04-03","p":2.286},{"d":"2021-04-04","p":2.234},{"d":"2021-04-07","p":2.268},{"d":"2021-04-08","p":2.345},{"d":"2021-04-09","p":2.345},{"d":"2021-04-10","p":2.296},{"d":"2021-04-11","p":2.314},{"d":"2021-04-14","p":2.307},{"d":"2021-04-15","p":2.293},{"d":"2021-04-16","p":2.258},{"d":"2021-04-17","p":2.206},{"d":"2021-04-18","p":2.335},{"d":"2021-04-19","p":2.369},{"d":"2021-04-21","p":2.411},{"d":"2021-04-22","p":2.408},{"d":"2021-04-24","p":2.23},{"d":"2021-04-25","p":2.286},{"d":"2021-04-28","p":2.366},{"d":"2021-04-29","p":2.369},
{"d":"2021-05-01","p":2.439},{"d":"2021-05-02","p":2.345},{"d":"2021-05-07","p":2.411},{"d":"2021-05-08","p":2.369},{"d":"2021-05-12","p":2.324},{"d":"2021-05-14","p":2.355},{"d":"2021-05-15","p":2.349},{"d":"2021-05-17","p":2.314},{"d":"2021-05-19","p":2.279},{"d":"2021-05-21","p":2.268},{"d":"2021-05-22","p":2.362},{"d":"2021-05-25","p":2.376},{"d":"2021-05-26","p":2.383},{"d":"2021-05-28","p":2.453},{"d":"2021-05-29","p":2.456},
{"d":"2021-06-01","p":2.369},{"d":"2021-06-02","p":2.401},{"d":"2021-06-03","p":2.376},{"d":"2021-06-05","p":2.446},{"d":"2021-06-10","p":2.321},{"d":"2021-06-12","p":2.39},{"d":"2021-06-15","p":2.38},{"d":"2021-06-16","p":2.422},{"d":"2021-06-18","p":2.369},{"d":"2021-06-19","p":2.335},{"d":"2021-06-22","p":2.206},{"d":"2021-06-24","p":2.279},{"d":"2021-06-26","p":2.467},{"d":"2021-06-29","p":2.505},
{"d":"2021-07-01","p":2.599},{"d":"2021-07-02","p":2.679},{"d":"2021-07-03","p":2.662},{"d":"2021-07-07","p":2.495},{"d":"2021-07-08","p":2.47},{"d":"2021-07-09","p":2.536},{"d":"2021-07-10","p":2.523},{"d":"2021-07-13","p":2.547},{"d":"2021-07-15","p":2.61},{"d":"2021-07-18","p":2.468},{"d":"2021-07-21","p":2.341},{"d":"2021-07-22","p":2.297},{"d":"2021-07-24","p":2.167},{"d":"2021-07-28","p":2.293},{"d":"2021-07-29","p":2.36},{"d":"2021-07-31","p":2.312},
{"d":"2021-08-03","p":2.364},{"d":"2021-08-05","p":2.304},{"d":"2021-08-06","p":2.345},{"d":"2021-08-12","p":2.312},{"d":"2021-08-13","p":2.237},{"d":"2021-08-14","p":2.293},{"d":"2021-08-18","p":2.304},{"d":"2021-08-19","p":2.282},{"d":"2021-08-20","p":2.3},{"d":"2021-08-21","p":2.304},{"d":"2021-08-24","p":2.252},{"d":"2021-08-26","p":2.327},{"d":"2021-08-27","p":2.42},{"d":"2021-08-28","p":2.427},{"d":"2021-08-31","p":2.449},
{"d":"2021-09-01","p":2.42},{"d":"2021-09-02","p":2.423},{"d":"2021-09-04","p":2.539},{"d":"2021-09-06","p":2.565},{"d":"2021-09-08","p":2.606},{"d":"2021-09-09","p":2.524},{"d":"2021-09-10","p":2.583},{"d":"2021-09-13","p":2.617},{"d":"2021-09-15","p":2.654},{"d":"2021-09-16","p":2.669},{"d":"2021-09-18","p":2.751},{"d":"2021-09-20","p":2.684},{"d":"2021-09-22","p":2.654},{"d":"2021-09-24","p":2.617},{"d":"2021-09-27","p":2.706},{"d":"2021-09-28","p":2.762},{"d":"2021-09-29","p":2.855},{"d":"2021-09-30","p":2.829},
{"d":"2021-10-01","p":2.84},{"d":"2021-10-05","p":2.806},{"d":"2021-10-06","p":2.84},{"d":"2021-10-07","p":2.606},{"d":"2021-10-09","p":2.639},{"d":"2021-10-11","p":2.665},{"d":"2021-10-13","p":2.78},{"d":"2021-10-14","p":2.751},{"d":"2021-10-15","p":2.758},{"d":"2021-10-19","p":2.792},{"d":"2021-10-20","p":2.806},{"d":"2021-10-23","p":2.356},{"d":"2021-10-25","p":2.431},{"d":"2021-10-27","p":2.516},{"d":"2021-10-28","p":2.513},{"d":"2021-10-31","p":2.369},
{"d":"2021-11-03","p":2.194},{"d":"2021-11-04","p":2.373},{"d":"2021-11-06","p":2.357},{"d":"2021-11-08","p":2.397},{"d":"2021-11-09","p":2.434},{"d":"2021-11-11","p":2.426},{"d":"2021-11-12","p":2.324},{"d":"2021-11-14","p":2.361},{"d":"2021-11-16","p":2.393},{"d":"2021-11-19","p":2.413},{"d":"2021-11-20","p":2.352},{"d":"2021-11-23","p":2.304},{"d":"2021-11-25","p":2.316},{"d":"2021-11-26","p":2.352},{"d":"2021-11-29","p":2.361},
{"d":"2021-12-01","p":2.385},{"d":"2021-12-02","p":2.511},{"d":"2021-12-06","p":2.47},{"d":"2021-12-08","p":2.507},{"d":"2021-12-11","p":2.45},{"d":"2021-12-13","p":2.397},{"d":"2021-12-14","p":2.475},{"d":"2021-12-16","p":2.475},{"d":"2021-12-17","p":2.507},{"d":"2021-12-19","p":2.491},{"d":"2021-12-22","p":2.458},{"d":"2021-12-23","p":2.401},{"d":"2021-12-24","p":2.393},{"d":"2021-12-27","p":2.279},{"d":"2021-12-29","p":2.401},{"d":"2021-12-31","p":2.405},
{"d":"2022-01-03","p":2.43},{"d":"2022-01-05","p":2.625},{"d":"2022-01-07","p":2.633},{"d":"2022-01-11","p":2.588},{"d":"2022-01-14","p":2.833},{"d":"2022-01-17","p":2.873},{"d":"2022-01-19","p":2.788},{"d":"2022-01-20","p":2.747},{"d":"2022-01-21","p":2.865},{"d":"2022-01-25","p":2.918},{"d":"2022-01-27","p":2.971},{"d":"2022-01-29","p":3.0},
{"d":"2022-02-01","p":3.041},{"d":"2022-02-02","p":3.468},{"d":"2022-02-03","p":3.474},{"d":"2022-02-04","p":3.749},{"d":"2022-02-07","p":3.865},{"d":"2022-02-08","p":4.029},{"d":"2022-02-09","p":3.736},{"d":"2022-02-10","p":3.535},{"d":"2022-02-11","p":3.712},{"d":"2022-02-14","p":3.761},{"d":"2022-02-15","p":3.883},{"d":"2022-02-16","p":3.797},{"d":"2022-02-17","p":3.852},{"d":"2022-02-18","p":3.761},{"d":"2022-02-22","p":3.657},{"d":"2022-02-23","p":3.81},{"d":"2022-02-24","p":3.773},{"d":"2022-02-25","p":3.828},{"d":"2022-02-26","p":3.822},{"d":"2022-02-27","p":3.59},{"d":"2022-02-28","p":3.334},
{"d":"2022-03-01","p":3.431},{"d":"2022-03-02","p":3.334},{"d":"2022-03-04","p":3.303},{"d":"2022-03-07","p":3.389},{"d":"2022-03-08","p":3.383},{"d":"2022-03-09","p":3.163},{"d":"2022-03-11","p":3.303},{"d":"2022-03-14","p":3.145},{"d":"2022-03-16","p":3.456},{"d":"2022-03-21","p":3.456},{"d":"2022-03-22","p":3.37},{"d":"2022-03-23","p":3.517},{"d":"2022-03-24","p":3.553},{"d":"2022-03-28","p":3.486},{"d":"2022-03-30","p":3.834},{"d":"2022-03-31","p":3.846},
{"d":"2022-04-04","p":3.846},{"d":"2022-04-05","p":3.992},{"d":"2022-04-07","p":4.005},{"d":"2022-04-08","p":4.072},{"d":"2022-04-11","p":3.913},{"d":"2022-04-12","p":3.846},{"d":"2022-04-14","p":4.346},{"d":"2022-04-15","p":4.358},{"d":"2022-04-18","p":4.371},{"d":"2022-04-20","p":4.017},{"d":"2022-04-21","p":4.114},{"d":"2022-04-24","p":4.114},{"d":"2022-04-26","p":4.2},{"d":"2022-04-27","p":4.224},{"d":"2022-04-29","p":4.554},
{"d":"2022-05-02","p":4.407},{"d":"2022-05-04","p":4.419},{"d":"2022-05-05","p":4.731},{"d":"2022-05-06","p":4.755},{"d":"2022-05-09","p":4.706},{"d":"2022-05-10","p":4.749},{"d":"2022-05-12","p":4.767},{"d":"2022-05-13","p":4.615},{"d":"2022-05-16","p":4.444},{"d":"2022-05-18","p":4.31},{"d":"2022-05-19","p":4.322},{"d":"2022-05-20","p":4.151},{"d":"2022-05-24","p":4.163},{"d":"2022-05-26","p":4.041},{"d":"2022-05-27","p":4.2},{"d":"2022-05-29","p":4.139},{"d":"2022-05-31","p":4.23},
{"d":"2022-06-02","p":3.809},{"d":"2022-06-03","p":4.005},{"d":"2022-06-08","p":3.34}
],
"trend": [{"d":"2021-11-05","p":1.832},{"d":"2022-06-08","p":3.604}]
},
"encoding": {
"x": {"field": "d", "type": "temporal",
 "scale": {"domain": [{"year": 2021, "month": 4, "date": 1}, {"year": 2022, "month": 6, "date": 8}]},
 "axis": {"format": "%b-%y", "tickCount": {"interval": "month", "step": 1}, "grid": false, "title": null, "labelFont": "Lato", "labelFontSize": 56, "labelColor": "#595959", "labelPadding": 30, "labelLimit": 0, "tickSize": 24, "tickWidth": 3, "tickColor": "#E3E3E3", "domainColor": "#E3E3E3", "domainWidth": 3, "labelFlush": false, "labelOverlap": false}},
"y": {"field": "p", "type": "quantitative",
 "scale": {"domain": [1.7, 4.7], "nice": false, "zero": false},
 "axis": {"values": [1.7, 2.2, 2.7, 3.2, 3.7, 4.2, 4.7], "format": "$.2f", "title": null, "grid": true, "gridColor": "#EFEFEF", "gridWidth": 3, "ticks": false, "domainColor": "#F0F0F0", "domainWidth": 3, "labelFont": "Lato", "labelFontSize": 55, "labelColor": "#595959", "labelPadding": 52}}
},
"layer": [
{"data": {"name": "USGC"}, "mark": {"type": "line", "strokeWidth": 9.5, "strokeJoin": "round", "strokeCap": "round"},
 "encoding": {"color": {"datum": "USGC", "type": "nominal",
  "scale": {"domain": ["USGC", "NYH", "Chicago", "LA", "Group 3", "San Fran"], "range": ["#5B9BD5", "#ED7D31", "#A5A5A5", "#FFC000", "#4472C4", "#70AD47"]},
  "legend": {"orient": "none", "legendX": -8, "legendY": 22, "direction": "horizontal", "title": null, "labelFont": "Lato", "labelFontSize": 67, "labelFontWeight": "bold", "labelColor": {"expr": "scale('color', datum.value)"}, "symbolType": "M-0.075,-1H0.075V1H-0.075Z", "symbolSize": 4225, "symbolFillColor": "#D9D9D9", "symbolStrokeWidth": 0, "symbolOpacity": {"expr": "datum.index === 0 ? 0 : 1"}, "labelOffset": 10, "columnPadding": 10, "labelLimit": 0}}}},
{"data": {"name": "NYH"}, "mark": {"type": "line", "strokeWidth": 9.5, "strokeJoin": "round", "strokeCap": "round"}, "encoding": {"color": {"datum": "NYH", "type": "nominal"}}},
{"data": {"name": "Chicago"}, "mark": {"type": "line", "strokeWidth": 9.5, "strokeJoin": "round", "strokeCap": "round"}, "encoding": {"color": {"datum": "Chicago", "type": "nominal"}}},
{"data": {"name": "LA"}, "mark": {"type": "line", "strokeWidth": 9.5, "strokeJoin": "round", "strokeCap": "round"}, "encoding": {"color": {"datum": "LA", "type": "nominal"}}},
{"data": {"name": "Group3"}, "mark": {"type": "line", "strokeWidth": 9.5, "strokeJoin": "round", "strokeCap": "round"}, "encoding": {"color": {"datum": "Group 3", "type": "nominal"}}},
{"data": {"name": "SanFran"}, "mark": {"type": "line", "strokeWidth": 9.5, "strokeJoin": "round", "strokeCap": "round"}, "encoding": {"color": {"datum": "San Fran", "type": "nominal"}}},
{"data": {"name": "trend"}, "mark": {"type": "line", "color": "#5B9BD5", "strokeWidth": 3}, "encoding": {}}
]
}
